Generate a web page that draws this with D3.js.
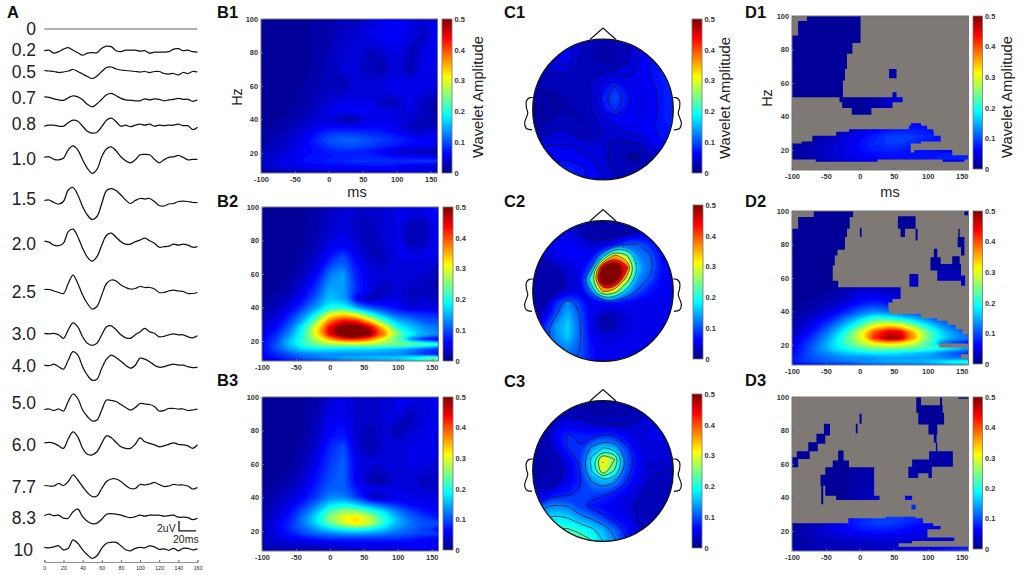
<!DOCTYPE html>
<html>
<head>
<meta charset="utf-8">
<script src="https://cdnjs.cloudflare.com/ajax/libs/d3/7.8.5/d3.min.js"></script>
<style>
    html,body{margin:0;padding:0;background:#fff;}
    svg{display:block;}
    text{font-family:"Liberation Sans",Arial,sans-serif;fill:#222;}
    .tick-label{font-size:7.4px;fill:#333;font-weight:bold;}
    .panel-label{font-size:16.5px;font-weight:bold;fill:#111;}
</style>
</head>
<body>
<svg id="fig" width="1021" height="575"></svg>
<script>
// ---- panel A: evoked traces in uV, one value every 5 ms from 0 to 160 ms
var traceTimes = [0,5,10,15,20,25,30,35,40,45,50,55,60,65,70,75,80,85,90,95,100,105,110,115,120,125,130,135,140,145,150,155,160];
var traceNames = ['0','0.2','0.5','0.7','0.8','1.0','1.5','2.0','2.5','3.0','4.0','5.0','6.0','7.7','8.3','10'];
var trace00 = [0,0,0,0,0,0,0,0,0,0,0,0,0,0,0,0,0,0,0,0,0,0,0,0,0,0,0,0,0,0,0,0,0];
var trace02 = [0,.1,-.5,-.2,.3,.6,.1,-.4,-.9,-.5,-.4,-.4,.5,.9,.8,0,-.2,.1,.1,.1,-.1,0,-.5,-.3,-.3,-.3,-.2,.3,.4,0,.1,-.2,-.3];
var trace05 = [.1,0,-.1,-.3,-.2,0,.3,-.1,-.6,-1.1,-1.5,-1,-.1,.7,.8,.4,.2,.1,0,-.1,-.2,-.1,-.3,-.1,-.1,-.5,-.6,-.5,-.8,-.3,-.5,-.1,-.2];
var trace07 = [.1,0,-.3,-.5,-.6,-.1,.3,.1,-.5,-1.4,-1.9,-1.3,-.4,.5,.8,.3,-.2,-.5,-.6,-.7,-.7,-.3,-.5,-.3,-.4,-.7,-.5,-.4,-.2,-.4,-.4,-.8,-.5];
var trace08 = [-.1,.1,.1,-.1,-.1,.6,1.1,.9,-.1,-1.1,-1.5,-1.3,-.2,1.1,1.5,.8,-.1,.1,-.2,.1,.3,.1,.3,-.1,.1,0,.1,.1,.3,0,0,-.8,-.3];
var trace10 = [0,.1,-.4,-.5,-.2,1.5,2.3,1.5,-.5,-2.2,-3.2,-2.4,.1,1.7,2.1,1.3,.1,-.7,-1.1,-.5,.5,.6,.5,-.4,-1.1,-.5,0,.1,.4,0,-.5,-.4,-.4];
var trace15 = [-.1,0,-.5,-.8,-.3,2,2.5,1,-1.3,-3,-3.9,-3.3,-.7,1.9,2.3,1.9,1,0,-.7,-.1,.3,.2,.3,-.3,-1.1,-1.2,-.8,-.7,-.3,-.2,-.3,-.5,-.5];
var trace20 = [.1,-.1,-.7,-.8,-.3,2,2.5,1,-1.3,-3.1,-3.9,-3,-.7,1.3,1.7,.9,0,-.5,-.5,0,.3,.7,.2,-.3,-1.1,-1,-.9,-.5,-.7,-.5,-.7,-1.1,-1];
var trace25 = [.1,.1,-.2,-.5,-.7,1.3,3,1.3,-1,-2.7,-3.8,-3.3,-1,1.3,2,1.8,1,.5,.2,.3,.7,.5,.5,.2,-.5,-.5,-.2,0,-.2,-.3,-.7,-.7,-.5];
var trace30 = [0,-.1,0,-.3,-1,.7,2.1,1.3,-.7,-2,-2.4,-2,-.3,1.3,1.5,.7,-.3,-.9,-1,-.3,.3,1,.3,0,-.7,-.6,-.3,-.1,-.3,-.3,-.7,-.9,-.5];
var trace40 = [.1,0,.3,-.2,-.7,1.1,2.8,2.1,-.2,-1.9,-2.9,-2.7,-.5,1.3,2.1,1.6,.9,.1,-.5,.1,1.5,1.3,.8,.1,-.3,-.2,.1,.3,.1,.1,-.2,-.4,-.3];
var trace50 = [-.1,0,-.3,0,-.4,1.5,3,2.1,-.2,-1.5,-2.4,-2.2,-.2,1.8,1.7,1.5,.9,.3,-.2,.3,1.1,1,.9,.5,-.4,-.3,.1,.1,0,0,-.3,-.2,0];
var trace60 = [-.1,0,-.2,-.7,-1.2,.7,2.1,1.1,-1.2,-2.4,-2.5,-1.9,-.2,1.3,.9,0,-.9,-1.2,-1.2,-.4,.9,.1,-.2,-.5,-.9,-.7,-.4,-.1,-.4,-.5,-.7,-1.2,-.5];
var trace77 = [.1,0,0,.5,.1,.9,2.2,1.2,-.1,-1.3,-2.1,-2,-.5,.9,1.4,1.4,.9,.1,-.5,-.5,.3,.2,.4,.7,.3,-.1,0,.3,.2,.2,0,-.6,-.3];
var trace83 = [0,.3,0,.1,-.5,-.5,.8,1.3,-.2,-1.1,-1.6,-1.5,-.7,.3,.4,.3,.1,-.2,-.4,-.2,.1,-.1,.1,.1,.1,-.1,0,.1,-.3,-.3,-.4,-.8,-.5];
var trace100 = [0,-.1,.1,.3,-.5,-.2,1.5,.8,-.5,-1.5,-2.2,-1.7,-.2,.8,1,1,.3,-.5,-.7,-.2,0,-.1,.3,.1,-.4,-.3,-.6,-.2,-.7,-.2,-.2,-.5,-.3];
var traceTicks = [0,20,40,60,80,100,120,140,160];

// ---- panels B and D: wavelet amplitude, rows are frequencies, columns are times
var waveTimes = [-100,-80,-60,-40,-20,0,20,40,60,80,100,120,140,160];
var waveFreqs = [100,90,80,70,60,50,45,40,36,32,28,24,21,18,15,12,10,8];
var waveB1 = [
[.008,.008,.01,.012,.018,.022,.03,.025,.045,.05,.06,.05,.04,.06],
[.008,.008,.01,.012,.02,.018,.035,.04,.05,.06,.06,.05,.03,.06],
[.008,.008,.01,.012,.018,.028,.04,.045,.03,.04,.05,.03,.05,.06],
[.008,.008,.01,.012,.018,.028,.04,.04,.025,.02,.045,.02,.05,.055],
[.008,.008,.01,.015,.022,.032,.02,.04,.045,.05,.06,.05,.05,.05],
[.008,.01,.012,.018,.028,.042,.055,.05,.05,.03,.025,.05,.03,.02],
[.01,.01,.015,.022,.032,.052,.06,.06,.06,.05,.045,.05,.03,.02],
[.01,.012,.018,.028,.04,.045,.02,.02,.05,.05,.05,.04,.03,.025],
[.012,.018,.025,.035,.05,.06,.05,.055,.06,.06,.05,.03,.03,.03],
[.015,.02,.03,.045,.065,.085,.09,.085,.08,.075,.06,.04,.04,.05],
[.02,.025,.035,.05,.08,.1,.11,.11,.1,.09,.08,.07,.06,.06],
[.02,.03,.04,.055,.07,.09,.1,.1,.09,.08,.07,.06,.06,.05],
[.025,.035,.045,.055,.065,.075,.08,.08,.07,.05,.04,.03,.03,.02],
[.03,.04,.05,.06,.07,.07,.075,.075,.075,.07,.06,.06,.055,.05],
[.03,.045,.055,.065,.07,.075,.08,.085,.085,.085,.085,.085,.09,.09],
[.03,.04,.05,.055,.06,.06,.06,.065,.065,.065,.06,.05,.045,.04],
[.02,.03,.035,.04,.045,.05,.05,.05,.05,.055,.055,.05,.05,.05],
[.015,.02,.025,.03,.03,.03,.035,.035,.035,.04,.04,.04,.04,.04]];
var waveB2 = [
[.01,.01,.01,.015,.02,.03,.04,.04,.035,.04,.05,.05,.06,.07],
[.01,.01,.01,.015,.02,.035,.045,.03,.03,.045,.05,.03,.03,.06],
[.01,.01,.01,.015,.025,.045,.055,.04,.025,.04,.05,.02,.03,.06],
[.01,.01,.01,.02,.035,.07,.1,.055,.03,.03,.05,.05,.05,.05],
[.01,.01,.015,.03,.06,.12,.14,.075,.05,.04,.04,.045,.04,.02],
[.01,.015,.025,.05,.09,.15,.14,.08,.05,.025,.04,.03,.03,.02],
[.015,.02,.035,.065,.11,.16,.14,.05,.02,.05,.05,.03,.04,.03],
[.02,.03,.05,.09,.14,.2,.2,.14,.1,.08,.06,.04,.04,.04],
[.025,.04,.07,.12,.19,.3,.33,.28,.2,.14,.1,.09,.08,.08],
[.03,.05,.09,.15,.25,.38,.44,.42,.33,.22,.15,.13,.1,.1],
[.04,.06,.11,.19,.31,.45,.54,.54,.46,.33,.2,.16,.13,.12],
[.05,.08,.13,.2,.32,.45,.57,.58,.5,.38,.26,.19,.15,.13],
[.06,.09,.15,.21,.28,.36,.42,.42,.38,.3,.22,.12,.07,.06],
[.06,.1,.16,.21,.25,.27,.27,.28,.28,.26,.25,.24,.23,.22],
[.06,.1,.14,.17,.18,.18,.17,.17,.17,.16,.15,.13,.1,.09],
[.06,.08,.1,.12,.13,.13,.13,.13,.13,.13,.13,.11,.08,.07],
[.05,.07,.09,.11,.12,.13,.15,.15,.16,.16,.17,.19,.22,.24],
[.04,.05,.07,.08,.09,.1,.11,.12,.12,.13,.14,.16,.19,.22]];
var waveB3 = [
[.01,.01,.01,.015,.02,.04,.05,.04,.035,.04,.05,.05,.05,.06],
[.01,.01,.01,.015,.025,.05,.055,.035,.035,.045,.05,.03,.04,.055],
[.01,.01,.01,.015,.03,.06,.07,.035,.025,.04,.02,.04,.05,.06],
[.01,.01,.012,.02,.04,.08,.1,.04,.02,.04,.04,.05,.05,.05],
[.01,.01,.015,.025,.055,.09,.11,.055,.04,.04,.045,.05,.05,.04],
[.012,.015,.02,.04,.07,.1,.11,.05,.02,.02,.04,.04,.025,.035],
[.015,.02,.03,.05,.08,.11,.11,.07,.05,.05,.05,.04,.04,.035],
[.015,.025,.04,.06,.09,.13,.13,.09,.03,.03,.05,.05,.05,.045],
[.02,.03,.05,.08,.12,.17,.19,.16,.12,.1,.08,.06,.05,.05],
[.02,.035,.06,.1,.15,.22,.26,.25,.21,.17,.12,.09,.07,.06],
[.025,.04,.07,.12,.18,.26,.31,.33,.28,.21,.15,.11,.09,.07],
[.03,.05,.08,.12,.17,.23,.28,.32,.28,.2,.15,.12,.1,.1],
[.03,.05,.08,.11,.14,.17,.19,.2,.19,.16,.13,.11,.09,.06],
[.03,.05,.07,.09,.11,.12,.13,.13,.13,.12,.11,.1,.09,.09],
[.03,.04,.05,.06,.07,.08,.08,.08,.08,.08,.08,.07,.06,.05],
[.03,.035,.04,.04,.04,.04,.05,.05,.05,.05,.05,.06,.06,.06],
[.02,.03,.03,.03,.03,.04,.04,.05,.05,.05,.05,.05,.06,.05],
[.02,.02,.03,.03,.03,.03,.03,.03,.04,.04,.04,.05,.05,.07]];
var waveD1 = [
[.01,.01,.01,.01,.01,.01,.01,.01,.01,.01,.01,.01,.01,.01],
[.01,.01,.01,.01,.01,.01,.01,.01,.01,.01,.01,.01,.01,.01],
[.01,.01,.01,.01,.01,.01,.01,.01,.01,.01,.01,.01,.01,.01],
[.01,.01,.01,.01,.01,.01,.01,.02,.02,.01,.01,.01,.01,.01],
[.01,.01,.01,.01,.012,.015,.015,.02,.02,.02,.02,.02,.02,.02],
[.01,.01,.01,.01,.012,.015,.02,.035,.05,.05,.05,.05,.05,.05],
[.01,.01,.01,.01,.012,.015,.018,.03,.04,.04,.04,.04,.04,.04],
[.01,.01,.01,.01,.012,.015,.015,.02,.02,.02,.02,.02,.02,.02],
[.01,.01,.012,.015,.02,.03,.04,.05,.06,.06,.06,.05,.05,.05],
[.01,.012,.015,.02,.03,.04,.055,.07,.075,.075,.07,.06,.05,.05],
[.012,.015,.02,.03,.045,.06,.075,.09,.095,.09,.08,.07,.06,.05],
[.012,.018,.025,.035,.05,.065,.08,.09,.09,.08,.07,.06,.05,.05],
[.015,.02,.03,.04,.05,.065,.075,.08,.08,.07,.06,.05,.05,.05],
[.015,.02,.03,.04,.05,.06,.07,.07,.07,.07,.07,.07,.07,.07],
[.015,.02,.03,.04,.05,.055,.06,.065,.07,.07,.07,.08,.08,.085],
[.01,.015,.02,.025,.03,.03,.035,.04,.04,.04,.04,.03,.03,.03],
[.01,.01,.015,.02,.02,.02,.02,.02,.02,.02,.02,.02,.02,.02],
[.01,.01,.01,.01,.01,.01,.01,.01,.01,.01,.01,.01,.01,.01]];
var waveD2 = [
[.008,.008,.008,.008,.008,.008,.01,.012,.015,.015,.015,.015,.015,.015],
[.008,.008,.008,.008,.008,.008,.01,.012,.015,.015,.015,.015,.015,.015],
[.01,.01,.01,.01,.01,.01,.012,.015,.015,.015,.015,.015,.015,.015],
[.01,.01,.01,.01,.01,.01,.012,.015,.015,.015,.015,.015,.015,.015],
[.01,.01,.01,.012,.015,.02,.02,.02,.025,.03,.03,.03,.03,.03],
[.01,.012,.015,.02,.03,.05,.05,.04,.04,.04,.04,.04,.04,.04],
[.012,.015,.02,.03,.045,.07,.08,.07,.06,.05,.05,.05,.05,.05],
[.015,.02,.03,.05,.08,.11,.13,.12,.1,.09,.07,.06,.05,.05],
[.02,.03,.05,.08,.12,.16,.21,.2,.18,.15,.12,.1,.08,.06],
[.02,.04,.07,.11,.16,.22,.29,.32,.3,.24,.18,.13,.1,.07],
[.03,.05,.09,.14,.2,.29,.39,.45,.44,.34,.24,.17,.13,.1],
[.04,.07,.11,.16,.23,.3,.42,.49,.48,.36,.25,.18,.14,.12],
[.05,.08,.12,.17,.22,.27,.32,.34,.33,.29,.22,.12,.09,.06],
[.05,.09,.13,.17,.2,.23,.25,.25,.25,.24,.22,.2,.17,.14],
[.06,.09,.12,.14,.16,.17,.18,.18,.17,.16,.15,.12,.1,.08],
[.07,.09,.11,.12,.13,.13,.13,.14,.14,.14,.14,.13,.12,.12],
[.07,.09,.1,.11,.12,.13,.14,.15,.15,.15,.16,.18,.2,.2],
[.05,.06,.07,.08,.08,.09,.1,.1,.11,.11,.12,.13,.15,.16]];
var waveD3 = [
[.012,.012,.012,.012,.012,.012,.012,.012,.015,.015,.015,.015,.015,.015],
[.012,.012,.012,.012,.012,.012,.012,.012,.015,.015,.015,.015,.015,.015],
[.012,.012,.012,.012,.012,.012,.012,.012,.015,.015,.015,.015,.015,.015],
[.012,.012,.012,.012,.012,.012,.012,.012,.015,.018,.018,.018,.018,.018],
[.012,.012,.012,.012,.015,.018,.018,.018,.018,.018,.018,.018,.018,.018],
[.012,.012,.012,.012,.015,.02,.025,.025,.025,.025,.025,.025,.025,.025],
[.012,.012,.012,.012,.015,.02,.028,.03,.03,.03,.03,.03,.03,.03],
[.012,.012,.012,.012,.015,.025,.03,.04,.04,.05,.05,.05,.05,.05],
[.01,.012,.015,.02,.03,.05,.06,.07,.08,.08,.07,.06,.05,.05],
[.012,.015,.02,.03,.045,.06,.075,.08,.08,.08,.07,.06,.05,.05],
[.012,.018,.025,.04,.06,.08,.09,.095,.09,.085,.075,.06,.05,.05],
[.012,.02,.03,.045,.065,.08,.09,.09,.085,.07,.06,.05,.05,.05],
[.015,.025,.035,.05,.06,.07,.075,.075,.07,.06,.05,.05,.05,.05],
[.015,.025,.035,.045,.05,.055,.06,.06,.055,.05,.05,.05,.05,.05],
[.015,.02,.03,.035,.04,.04,.045,.045,.045,.045,.04,.04,.04,.04],
[.015,.02,.025,.025,.03,.03,.03,.035,.035,.04,.04,.04,.04,.04],
[.02,.025,.03,.03,.03,.035,.035,.04,.045,.05,.055,.06,.07,.08],
[.03,.03,.035,.035,.04,.04,.045,.05,.05,.06,.06,.07,.08,.09]];

// significant regions of panels D as [ms from, ms to, Hz from, Hz to], the rest is grey
var signifD1 = [[-78,1,97,100],[-91,1,88.4,97],[-100,1,83.8,88.4],[-100,-11,77.4,83.8],[-100,-19,68.4,77.4],[-100,-22,61.4,68.4],[-100,-25,51.4,61.4],[-30,63,48.4,51.4],[48,54,51.4,54.4],[-26,48,45,48.4],[-12,17,41,45],[43,54,62.8,68.4],[75,90,33.4,36],[72,99,32,34.4],[-16,108,30.8,32.4],[-35,109,28.4,30.8],[-70,119,25,28.4],[-86,90,23.8,25],[-100,75,18,23.8],[80,136,16.8,20],[-100,136,16.8,18.4],[-100,160,14.2,16.8],[-65,26,13,14.2],[122,154,13,14.2]];
var signifD2 = [[-68,-10,96.4,100],[-91,-15,89.4,96.4],[-100,-19,84.4,89.4],[-100,-22,76.8,84.4],[-100,-33,73.4,76.8],[-100,-37,67.4,73.4],[-100,-40,58.4,67.4],[-100,-32,54.4,58.4],[-100,60,47.4,54.4],[-100,48,45.4,47.4],[-100,42,40.4,45.4],[-100,44,38.4,40.4],[-100,90,36,38.4],[-100,114,34.4,36],[-100,129,32,34.4],[-100,141,29.4,32],[-100,151,26.4,29.4],[-100,160,20.8,26.4],[-100,117,18.4,20.8],[-100,160,14.4,18.4],[-100,149,11.8,14.4],[-100,160,7.8,11.8],[56,82,89.4,96.8],[60,66.5,84.4,89.4],[82,85,82.4,89.4],[0,2.5,84.4,90],[145,147,84.4,89.4],[144,154,78.4,84.4],[149,154,73.4,78.4],[109,114,72.4,77.4],[104,119,64.4,72.4],[114,149,58.4,68.4],[136,147,68,73],[149,155,55.4,61.4],[73,86,54.8,62.4],[154,160,97.4,100]];
var signifD3 = [[-53,-44,77,84],[-64,-51,72,78],[-76,-62,67.6,73],[-93,-74,63,67.6],[-100,-91,58,64],[-0.5,2.5,84,90],[-6,-3.5,78.4,84],[83,90,90.6,100],[118,121,90.6,100],[83,122,90.6,95],[86,124,83.6,90.6],[101,114,77.6,83.6],[109,113,72.6,77.6],[112,114,67.6,72.6],[102,137,58.4,67.6],[77,106,54.4,62.6],[71.4,86,51.6,58.4],[101,106,51.6,54.4],[-32,-24,62,68],[-40,-16,58,62],[-51,21,53.6,58],[-58,21,47,53.6],[-51,21,41,47],[-35,29,38.4,41],[-57,-54,36,47],[66.5,77,38.4,41],[76,82,32.8,35.6],[145,160,99,100],[38,82,27.6,28.4],[-17,93,24.6,27.6],[-100,108,23,24.6],[-100,119,21,23],[-100,99.5,16,21],[-100,139,14,16],[-100,77,12.6,14],[-100,57,10.6,12.6],[-100,160,8,10.6]];

// ---- panels C: scalp maps, 13 x 13 samples across the head, front at the top
var scalpC1 = [
[.04,.05,.05,.05,.04,.03,.025,.025,.035,.05,.06,.07,.07],
[.04,.05,.05,.06,.04,.025,.02,.02,.03,.05,.06,.07,.07],
[.035,.04,.05,.055,.035,.025,.02,.022,.035,.05,.065,.07,.07],
[.03,.03,.035,.035,.03,.03,.04,.05,.045,.055,.065,.075,.075],
[.02,.025,.025,.025,.03,.04,.06,.08,.06,.05,.06,.07,.08],
[.015,.018,.02,.025,.025,.035,.075,.1,.075,.05,.055,.07,.08],
[.015,.015,.02,.022,.025,.035,.065,.085,.065,.05,.055,.07,.08],
[.015,.02,.028,.03,.022,.03,.045,.055,.06,.055,.06,.07,.08],
[.02,.03,.04,.04,.028,.03,.035,.04,.05,.05,.06,.07,.07],
[.04,.05,.05,.05,.045,.04,.04,.03,.03,.035,.05,.06,.07],
[.05,.055,.06,.06,.055,.05,.04,.028,.02,.017,.03,.05,.06],
[.06,.07,.07,.075,.07,.06,.045,.03,.025,.025,.035,.05,.06],
[.06,.07,.075,.075,.07,.06,.05,.04,.03,.03,.04,.05,.06]];
var scalpC2 = [
[.04,.04,.04,.04,.03,.02,.02,.02,.02,.03,.04,.05,.05],
[.04,.04,.05,.05,.03,.02,.015,.015,.02,.03,.05,.06,.06],
[.04,.05,.06,.06,.05,.035,.04,.055,.1,.105,.08,.06,.05],
[.03,.04,.05,.06,.06,.06,.15,.36,.27,.13,.11,.06,.05],
[.02,.02,.03,.04,.05,.1,.52,.64,.44,.16,.115,.07,.05],
[.02,.02,.02,.035,.05,.22,.64,.6,.3,.13,.1,.06,.05],
[.02,.02,.025,.04,.05,.12,.36,.3,.16,.1,.07,.06,.05],
[.02,.025,.08,.13,.09,.05,.06,.07,.06,.055,.05,.05,.05],
[.03,.04,.1,.15,.105,.05,.03,.03,.045,.05,.05,.05,.05],
[.04,.08,.14,.17,.11,.05,.025,.03,.045,.05,.05,.05,.05],
[.05,.09,.13,.16,.11,.06,.045,.045,.05,.05,.05,.05,.05],
[.06,.09,.12,.13,.105,.07,.05,.05,.05,.05,.05,.05,.05],
[.06,.08,.1,.11,.1,.07,.05,.05,.05,.05,.05,.05,.05]];
var scalpC3 = [
[.03,.03,.03,.02,.02,.02,.02,.02,.02,.02,.04,.05,.05],
[.03,.03,.035,.03,.025,.02,.02,.02,.02,.028,.04,.05,.05],
[.025,.025,.04,.05,.045,.04,.035,.03,.032,.04,.045,.05,.05],
[.02,.03,.06,.085,.075,.07,.085,.08,.055,.045,.05,.05,.05],
[.02,.025,.045,.08,.08,.13,.17,.15,.09,.05,.045,.045,.045],
[.02,.02,.03,.05,.085,.18,.33,.26,.11,.06,.04,.04,.04],
[.02,.02,.025,.045,.08,.17,.3,.21,.1,.055,.035,.035,.035],
[.03,.025,.03,.05,.075,.12,.15,.125,.08,.05,.035,.03,.03],
[.04,.045,.07,.075,.09,.09,.085,.07,.05,.04,.03,.03,.03],
[.05,.12,.13,.125,.09,.07,.06,.05,.045,.03,.03,.03,.03],
[.1,.17,.18,.17,.14,.12,.09,.065,.05,.035,.03,.03,.03],
[.15,.2,.22,.22,.2,.18,.15,.11,.07,.04,.03,.03,.03],
[.18,.22,.25,.27,.25,.22,.17,.13,.08,.05,.03,.03,.03]];
var linesC1 = [.02,.035,.05,.065,.08];
var linesC2 = [.03,.105,.18,.255,.33,.405];
var linesC3 = [.035,.08,.125,.17,.215,.26];
var sensorsC2 = [[-.54,-.7],[.29,-.63],[.55,-.69],[.48,-.39],[.17,-.37],[-.49,.14],[-.55,.45],[.83,-.51],[.48,.15],[.27,.36]];
var sensorsC3 = [[-.56,-.7],[-.49,-.39],[0,-.12],[-.33,-.12],[-.49,.16],[-.55,.45],[-.29,.38],[.17,.11],[.27,.4],[.34,-.12],[-.16,-.36]];

var ampTicks = [0,.1,.2,.3,.4,.5];
var msTicks = [-100,-50,0,50,100,150];
var hzTicks = [20,40,60,80,100];

// ---- shared helpers
var svg = d3.select('#fig');
var defs = svg.append('defs');
defs.append('filter').attr('id','soft').attr('x','-5%').attr('y','-5%').attr('width','110%').attr('height','110%')
    .append('feGaussianBlur').attr('stdDeviation',0.7);

// matlab jet over the 0 - 0.5 range of the colour bars
var jet = d3.scaleLinear()
    .domain([0,.0625,.1875,.3125,.4375,.5])
    .range(['#000080','#0000ff','#00ffff','#ffff00','#ff0000','#800000'])
    .clamp(true);
var levels = d3.range(0,.52,.008);

var clipCount = 0;
function newClip(){
    clipCount++;
    return defs.append('clipPath').attr('id','clip'+clipCount);
}
function clipRef(c){ return 'url(#'+c.attr('id')+')'; }

// contour rings come out angular on such a coarse grid, so round them off
var ringLine = d3.line().curve(d3.curveBasisClosed);
function ringPath(c,toX,toY){
    return c.coordinates.map(function(poly){
        return poly.map(function(ring){
            return ringLine(ring.slice(0,-1).map(function(p){return [toX(p[0]),toY(p[1])];}));
        }).join('');
    }).join('');
}
function drawField(g, rows, toX, toY){
    var nx = rows[0].length, ny = rows.length;
    var contours = d3.contours().size([nx,ny]).thresholds(levels)(d3.merge(rows));
    g.selectAll('path.band')
        .data(contours.filter(function(c){return c.coordinates.length > 0;}))
        .enter().append('path').attr('class','band')
        .attr('d',function(c){return ringPath(c,toX,toY);})
        .attr('fill',function(c){return jet(c.value+.004);});
}
function colorBar(x0,y0,w,h){
    var gradId = 'bar'+x0+'_'+y0;
    var grad = defs.append('linearGradient').attr('id',gradId).attr('x1',0).attr('x2',0).attr('y1',1).attr('y2',0);
    jet.domain().forEach(function(v){
        grad.append('stop').attr('offset',v/.5).attr('stop-color',jet(v));
    });
    var y = d3.scaleLinear().domain([0,.5]).range([y0+h,y0]);
    svg.append('rect').attr('x',x0).attr('y',y0).attr('width',w).attr('height',h)
        .attr('fill','url(#'+gradId+')').attr('stroke','#777').attr('stroke-width',.8);
    var ax = svg.append('g').attr('transform','translate('+(x0+w)+',0)')
        .call(d3.axisRight(y).tickValues(ampTicks).tickSize(0).tickPadding(2.5).tickFormat(function(d){return d===0?'0':d3.format('.1f')(d);}));
    ax.select('.domain').remove();
    ax.selectAll('text').attr('class','tick-label').attr('font-family',null);
}
function heatPanel(x0,y0,rows,signif){
    var w = 176.5, h = 154;
    var x = d3.scaleLinear().domain([-100,160]).range([x0,x0+w]);
    var y = d3.scaleLinear().domain([8,100]).range([y0+h,y0]);
    // grid index -> ms / Hz, samples sit at cell centres
    var colT = d3.scaleLinear().domain(waveTimes.map(function(d,i){return i+.5;})).range(waveTimes);
    var rowF = d3.scaleLinear().domain(waveFreqs.map(function(d,i){return i+.5;})).range(waveFreqs);

    var frame = newClip();
    frame.append('rect').attr('x',x0).attr('y',y0).attr('width',w).attr('height',h);
    var g = svg.append('g').attr('clip-path',clipRef(frame));
    if(signif){
        g.append('rect').attr('x',x0).attr('y',y0).attr('width',w).attr('height',h).attr('fill','#7e7975');
        var mask = newClip();
        mask.selectAll('rect').data(signif).enter().append('rect')
            .attr('x',function(d){return x(d[0]);})
            .attr('width',function(d){return x(d[1])-x(d[0]);})
            .attr('y',function(d){return y(d[3]);})
            .attr('height',function(d){return y(d[2])-y(d[3]);});
        g = g.append('g').attr('clip-path',clipRef(mask));
    }
    var field = g.append('g').attr('filter','url(#soft)');
    field.append('rect').attr('x',x0-5).attr('y',y0-5).attr('width',w+10).attr('height',h+10).attr('fill',jet(0.005));
    drawField(field,rows,function(u){return x(colT(u));},function(v){return y(rowF(v));});

    svg.append('rect').attr('x',x0).attr('y',y0).attr('width',w).attr('height',h)
        .attr('fill','none').attr('stroke','#777').attr('stroke-width',1);
    var ax = svg.append('g').attr('transform','translate(0,'+(y0+h)+')')
        .call(d3.axisBottom(x).tickValues(msTicks).tickSize(-2).tickPadding(3.5).tickFormat(String));
    var ay = svg.append('g').attr('transform','translate('+x0+',0)')
        .call(d3.axisLeft(y).tickValues(hzTicks).tickSize(-2).tickPadding(3));
    [ax,ay].forEach(function(a){
        a.select('.domain').remove();
        a.selectAll('line').attr('stroke','#666');
        a.selectAll('text').attr('class','tick-label').attr('font-family',null);
    });
}
function headPanel(cx,cy,rows,lines,sensors){
    var r = 70.3;
    var px = d3.scaleLinear().domain([.5,12.5]).range([cx-r,cx+r]);
    var py = d3.scaleLinear().domain([.5,12.5]).range([cy-r,cy+r]);
    var scalp = newClip();
    scalp.append('circle').attr('cx',cx).attr('cy',cy).attr('r',r);
    var g = svg.append('g').attr('clip-path',clipRef(scalp));
    var field = g.append('g').attr('filter','url(#soft)');
    field.append('rect').attr('x',cx-r-5).attr('y',cy-r-5).attr('width',2*r+10).attr('height',2*r+10).attr('fill',jet(0.01));
    drawField(field,rows,px,py);
    var iso = d3.contours().size([13,13]).thresholds(lines)(d3.merge(rows));
    g.selectAll('path.iso').data(iso).enter().append('path').attr('class','iso')
        .attr('d',function(c){return ringPath(c,px,py);})
        .attr('fill','none').attr('stroke','#111').attr('stroke-width',.8).attr('stroke-opacity',.8);

    var ox = d3.scaleLinear().domain([-1,1]).range([cx-r,cx+r]);
    var oy = d3.scaleLinear().domain([-1,1]).range([cy-r,cy+r]);
    g.selectAll('circle.sensor').data(sensors).enter().append('circle').attr('class','sensor')
        .attr('cx',function(d){return ox(d[0]);}).attr('cy',function(d){return oy(d[1]);})
        .attr('r',.6).attr('fill','#223');
    svg.append('circle').attr('cx',cx).attr('cy',cy).attr('r',r).attr('fill','none').attr('stroke','#111').attr('stroke-width',1.2);
    var straight = d3.line().x(function(d){return ox(d[0]);}).y(function(d){return oy(d[1]);});
    svg.append('path').attr('d',straight([[-.185,-.995],[0,-1.16],[.185,-.995]]))
        .attr('fill','none').attr('stroke','#111').attr('stroke-width',1.2);
    var earLine = d3.line().x(function(d){return ox(d[0]);}).y(function(d){return oy(d[1]);}).curve(d3.curveCatmullRom);
    var ear = [[-1,-.17],[-1.05,-.165],[-1.09,-.12],[-1.09,-.03],[-1.07,.05],[-1.1,.14],[-1.115,.2],[-1.09,.27],[-1.01,.29]];
    [1,-1].forEach(function(side){
        svg.append('path')
            .attr('d',earLine(ear.map(function(p){return [p[0]*side,p[1]];})))
            .attr('fill','none').attr('stroke','#111').attr('stroke-width',1.2);
    });
}
function label(txt,x,y,size,rotate){
    var t = svg.append('text').text(txt).attr('font-size',size+'px').attr('text-anchor','middle');
    if(rotate){ t.attr('transform','translate('+x+','+y+') rotate(-90)'); }
    else { t.attr('x',x).attr('y',y); }
    return t;
}
function panelLabel(txt,x,y){
    svg.append('text').attr('class','panel-label').attr('x',x).attr('y',y).text(txt);
}

// ---- panel A
var traces = [trace00,trace02,trace05,trace07,trace08,trace10,trace15,trace20,trace25,trace30,trace40,trace50,trace60,trace77,trace83,trace100];
var traceBase = [29,50.7,71,97.3,125.7,157.3,200,241.7,290,333.3,365.7,409,442.3,486,515.7,547.3];
var labelMid = [29,50,72,98,124,159,199,244,292,334,366,403,445,487,518,550];
var tx = d3.scaleLinear().domain([0,160]).range([44.3,197.5]);
var pxPerUv = 5;
traces.forEach(function(vals,i){
    var line = d3.line()
        .x(function(d,j){return tx(traceTimes[j]);})
        .y(function(d){return traceBase[i]-d*pxPerUv;})
        .curve(d3.curveCatmullRom);
    svg.append('path').attr('d',line(vals)).attr('fill','none')
        .attr('stroke',i===0?'#666':'#111').attr('stroke-width',i===0?1.2:1.25);
    svg.append('text').attr('x',i===15?33:36).attr('y',labelMid[i]+6).attr('text-anchor','end')
        .attr('font-size','17.5px').text(traceNames[i]);
});
var axA = svg.append('g').attr('transform','translate(0,562)')
    .call(d3.axisBottom(tx).tickValues(traceTicks).tickSize(-2).tickPadding(4));
axA.select('.domain').attr('stroke','#777').attr('stroke-width',.8);
axA.selectAll('line').attr('stroke','#666');
axA.selectAll('text').attr('font-size','5.2px').attr('font-family',null).attr('fill','#444');
// scale bar
svg.append('path').attr('d','M179,521V530.8H196').attr('fill','none').attr('stroke','#111').attr('stroke-width',1.3);
svg.append('text').attr('x',157).attr('y',532).attr('font-size','10.5px').text('2uV');
svg.append('text').attr('x',173).attr('y',543).attr('font-size','10.5px').text('20ms');
panelLabel('A',7,18);

// ---- panels B
heatPanel(261,19,waveB1);
heatPanel(262,207,waveB2);
heatPanel(262,397,waveB3);
colorBar(442,19,10,154);
colorBar(443,207,10,154);
colorBar(443,397,10,153);
panelLabel('B1',217,18);
panelLabel('B2',217,207);
panelLabel('B3',217,386);
label('ms',357,197,14.5);
label('Hz',242,97,14.5,true);
label('Wavelet Amplitude',483,97,14.8,true);

// ---- panels C
headPanel(603,109.5,scalpC1,linesC1,[]);
headPanel(603,291,scalpC2,linesC2,sensorsC2);
headPanel(603,471,scalpC3,linesC3,sensorsC3);
colorBar(692,19,10,154);
colorBar(693,205,10,154);
colorBar(692,394,10,154);
panelLabel('C1',504,18);
panelLabel('C2',504,207);
panelLabel('C3',504,387);
label('Wavelet Amplitude',730,98,14.8,true);

// ---- panels D
heatPanel(792,16,waveD1,signifD1);
heatPanel(792,211,waveD2,signifD2);
heatPanel(792,397,waveD3,signifD3);
colorBar(973,16,9.5,153);
colorBar(973,211,9.5,153);
colorBar(973,397,9.5,152);
panelLabel('D1',745,18);
panelLabel('D2',745,207);
panelLabel('D3',745,386);
label('ms',890,197,14.5);
label('Hz',772,98,14.5,true);
label('Wavelet Amplitude',1012,97,14.8,true);
</script>
</body>
</html>
